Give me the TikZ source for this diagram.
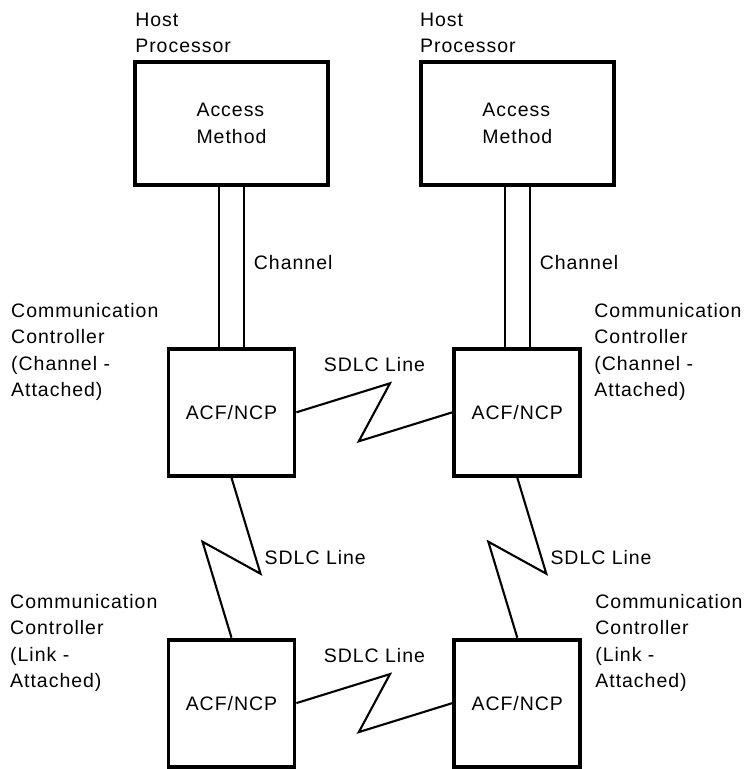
\documentclass[tikz,border=0pt]{standalone}
\usepackage{fontspec}
\setmainfont{Liberation Sans}[LetterSpace=5]
\usepackage{tikz}
\usetikzlibrary{calc}
\usetikzlibrary{positioning}

\tikzset{
  hostbox/.style={draw, line width=3.8pt, minimum width=193pt, minimum height=123pt},
  ctlbox/.style={draw, line width=3.8pt, minimum width=126pt, minimum height=127pt},
  chan/.style={line width=1.9pt},
  sdlc/.style={line width=2.1pt, to path={-- ($(\tikztostart)!0.6!(\tikztotarget)!29pt!90:(\tikztotarget)$) -- ($(\tikztostart)!0.4!(\tikztotarget)!29pt!-90:(\tikztotarget)$) -- (\tikztotarget)}}
}

\begin{document}
\begin{tikzpicture}[x=1pt, y=-1pt, every node/.style={inner sep=0pt, font=\fontsize{19.5}{26.5}\selectfont}]
  \useasboundingbox (0,0) rectangle (747,769);

  \node (c1) [hostbox, align=left] at (231.5,123.5) {Access\\Method};
  \node (c3) [ctlbox, below=160pt of c1] {ACF/NCP};
  \node (c5) [ctlbox, below=160pt of c3] {ACF/NCP};
  \node (c4) [ctlbox, right=156pt of c3] {ACF/NCP};
  \node (c6) [ctlbox, right=156pt of c5] {ACF/NCP};
  \node (c2) [hostbox, align=left, above=160pt of c4] {Access\\Method};

  \node (iHost1) [above right=7pt and 2pt of c1.north west, align=left] {Host\\Processor};
  \node (iHost2) [above right=7pt and 1pt of c2.north west, align=left] {Host\\Processor};
  \node (iCC3) [below left=-44pt and 8pt of c3.north west, align=left] {Communication\\Controller\\(Channel -\\Attached)};
  \node (iCC4) [below right=-44pt and 12pt of c4.north east, align=left] {Communication\\Controller\\(Channel -\\Attached)};
  \node (iCC5) [below left=-44pt and 9pt of c5.north west, align=left] {Communication\\Controller\\(Link -\\Attached)};
  \node (iCC6) [below right=-44pt and 13pt of c6.north east, align=left] {Communication\\Controller\\(Link -\\Attached)};

  \draw [chan] ([xshift=-12.5pt]c1.south) -- ([xshift=-12.5pt]c3.north);
  \draw [chan] ([xshift=12.5pt]c1.south) -- node (iChan1) [right=9pt, pos=0.47] {Channel} ([xshift=12.5pt]c3.north);
  \draw [chan] ([xshift=-12.5pt]c2.south) -- ([xshift=-12.5pt]c4.north);
  \draw [chan] ([xshift=12.5pt]c2.south) -- node (iChan2) [right=9pt, pos=0.47] {Channel} ([xshift=12.5pt]c4.north);

  \draw [sdlc] (c3.east) to (c4.west);
  \path (c3.east) -- node (iSDLC1) [above=40pt] {SDLC Line} (c4.west);
  \draw [sdlc] (c5.east) to (c6.west);
  \path (c5.east) -- node (iSDLC2) [above=40pt] {SDLC Line} (c6.west);
  \draw [sdlc] (c3.south) to (c5.north);
  \path (c3.south) -- node (iSDLC3) [right=33pt] {SDLC Line} (c5.north);
  \draw [sdlc] (c4.south) to (c6.north);
  \path (c4.south) -- node (iSDLC4) [right=33pt] {SDLC Line} (c6.north);
\end{tikzpicture}
\end{document}
